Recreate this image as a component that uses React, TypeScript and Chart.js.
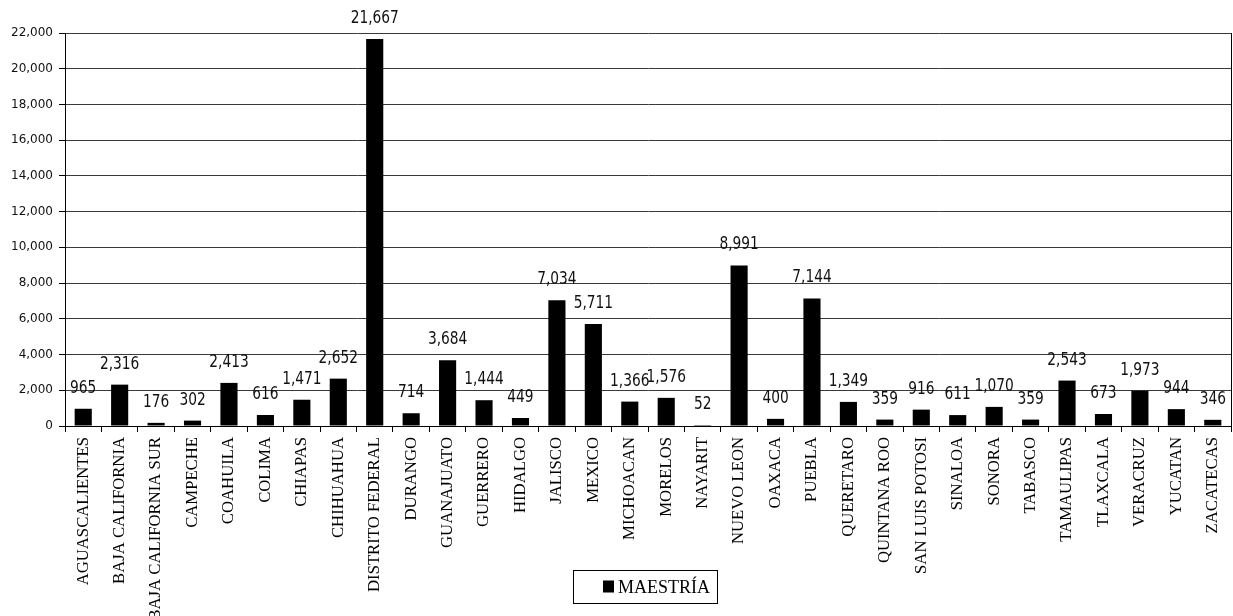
import React, { useEffect, useRef } from "react";
import { Chart, registerables } from "chart.js";

Chart.register(...registerables);

// Posgrado (maestría) enrollment per state
const states = [
  "AGUASCALIENTES", "BAJA CALIFORNIA", "BAJA CALIFORNIA SUR", "CAMPECHE", "COAHUILA",
  "COLIMA", "CHIAPAS", "CHIHUAHUA", "DISTRITO FEDERAL", "DURANGO", "GUANAJUATO",
  "GUERRERO", "HIDALGO", "JALISCO", "MEXICO", "MICHOACAN", "MORELOS", "NAYARIT",
  "NUEVO LEON", "OAXACA", "PUEBLA", "QUERETARO", "QUINTANA ROO", "SAN LUIS POTOSI",
  "SINALOA", "SONORA", "TABASCO", "TAMAULIPAS", "TLAXCALA", "VERACRUZ", "YUCATAN",
  "ZACATECAS",
];

const maestria = [
  965, 2316, 176, 302, 2413, 616, 1471, 2652, 21667, 714, 3684,
  1444, 449, 7034, 5711, 1366, 1576, 52, 8991, 400, 7144, 1349,
  359, 916, 611, 1070, 359, 2543, 673, 1973, 944, 346,
];

const seriesLabel = "MAESTRÍA";

const yMax = 22000;
const yStep = 2000;

const fmt = (v: number) => v.toLocaleString("en-US");

// Value labels above each bar (tall, narrow figures)
const valueLabels = {
  id: "valueLabels",
  afterDatasetsDraw(chart: any) {
    const { ctx } = chart;
    const meta = chart.getDatasetMeta(0);
    const squeeze = 0.85;
    ctx.save();
    ctx.fillStyle = "#111";
    ctx.font = "18px 'DejaVu Sans Condensed', sans-serif";
    ctx.textAlign = "center";
    ctx.textBaseline = "alphabetic";
    meta.data.forEach((bar: any, i: number) => {
      ctx.save();
      ctx.translate(bar.x, bar.y - 16);
      ctx.scale(squeeze, 1);
      ctx.fillText(fmt(maestria[i]), 0, 0);
      ctx.restore();
    });
    ctx.restore();
  },
};

// Frame around the plot area plus the boxed legend under the axis
const frameAndLegend = {
  id: "frameAndLegend",
  afterDraw(chart: any) {
    const { ctx, chartArea } = chart;
    ctx.save();
    ctx.strokeStyle = "#000";
    ctx.lineWidth = 1;
    ctx.beginPath();
    ctx.moveTo(Math.round(chartArea.right) + 0.5, chartArea.top);
    ctx.lineTo(Math.round(chartArea.right) + 0.5, chartArea.bottom);
    ctx.stroke();

    const label = chart.data.datasets[0].label;
    ctx.font = "18px 'Liberation Serif', serif";
    const boxW = 144;
    const boxH = 33;
    const cx = (chartArea.left + chartArea.right) / 2 - 3;
    const bx = Math.round(cx - boxW / 2) + 0.5;
    const by = chart.height - 46 + 0.5;
    ctx.fillStyle = "#fff";
    ctx.fillRect(bx, by, boxW, boxH);
    ctx.strokeRect(bx, by, boxW, boxH);
    const sx = Math.round(bx + 29);
    ctx.fillStyle = "#000";
    ctx.fillRect(sx, by + 10, 11, 12);
    ctx.textAlign = "left";
    ctx.textBaseline = "middle";
    ctx.fillText(label, sx + 15, by + boxH / 2 + 1);
    ctx.restore();
  },
};

export default function App() {
  const canvasRef = useRef<HTMLCanvasElement | null>(null);

  useEffect(() => {
    const canvas = canvasRef.current;
    if (!canvas) return;
    const chart = new Chart(canvas, {
      type: "bar",
      data: {
        labels: states,
        datasets: [
          {
            label: seriesLabel,
            data: maestria,
            backgroundColor: "#000",
            borderWidth: 0,
            barPercentage: 0.47,
            categoryPercentage: 1,
          },
        ],
      },
      options: {
        responsive: false,
        animation: false,
        devicePixelRatio: 1,
        layout: { padding: { top: 33, right: 2, left: 0, bottom: 0 } },
        plugins: {
          legend: { display: false },
          tooltip: { enabled: false },
        },
        scales: {
          x: {
            offset: true,
            grid: {
              offset: true,
              drawOnChartArea: false,
              drawTicks: true,
              tickLength: 6,
              color: "#000",
            },
            border: { display: true, color: "#000", width: 1 },
            ticks: {
              autoSkip: false,
              minRotation: 90,
              maxRotation: 90,
              padding: 5,
              color: "#000",
              font: { family: "'Liberation Serif', serif", size: 16.7 },
            },
            afterFit(scale: any) {
              scale.height = 190;
              scale.paddingLeft = 0;
              scale.paddingRight = 0;
            },
          },
          y: {
            min: 0,
            max: yMax,
            ticks: {
              stepSize: yStep,
              padding: 6,
              color: "#111",
              font: { family: "'DejaVu Sans', sans-serif", size: 12 },
              callback: (v: any) => fmt(Number(v)),
            },
            grid: {
              color: "#3a3a3a",
              lineWidth: 1,
              tickLength: 6,
              tickColor: "#000",
            },
            border: { display: true, color: "#000", width: 1 },
            afterFit(scale: any) {
              scale.width = 65;
            },
          },
        },
      },
      plugins: [valueLabels, frameAndLegend],
    });
    return () => chart.destroy();
  }, []);

  return (
    <div
      style={{
        position: "fixed",
        left: 0,
        top: 0,
        width: 1233,
        height: 616,
        background: "#fff",
      }}
    >
      <canvas ref={canvasRef} width={1233} height={616} />
    </div>
  );
}
